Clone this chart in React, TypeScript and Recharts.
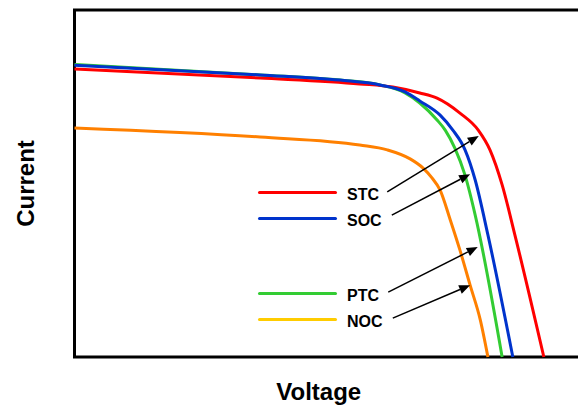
import React from 'react'
import { LineChart, Line, XAxis, YAxis, ReferenceArea, ReferenceLine, Legend } from 'recharts'

// I-V curves, voltage and current as % of full scale
const stcV = [0, 36.5, 56.1, 62.6, 67.9, 71.3, 75.8, 79.4, 81.7, 84.1, 86.6, 92.3]
const stcI = [83.0, 80.4, 78.7, 77.8, 76.1, 74.6, 70.3, 65.4, 59.7, 49.6, 35.2, 0]

const socV = [0, 36.5, 52.2, 60.1, 65.0, 67.9, 71.9, 74.4, 76.8, 78.8, 81.3, 86.2]
const socI = [84.1, 81.3, 79.8, 78.4, 76.4, 73.8, 69.7, 65.4, 59.7, 51.0, 35.2, 0]

const ptcV = [0, 36.5, 52.2, 60.1, 65.0, 67.9, 71.3, 72.9, 74.8, 76.8, 78.8, 84.1]
const ptcI = [84.3, 81.3, 79.8, 78.4, 76.1, 73.2, 68.3, 65.4, 60.2, 52.4, 40.9, 0]

const nocV = [0, 36.5, 56.1, 61.5, 66.0, 68.5, 70.3, 71.9, 73.9, 75.8, 77.8, 79.8, 81.3]
const nocI = [66.0, 63.4, 61.1, 59.7, 57.1, 54.5, 51.6, 48.1, 39.5, 30.8, 20.7, 10.7, 0]

const labels = ['STC', 'SOC', 'PTC', 'NOC']
const lineColors = ['#ff0000', '#0033cc', '#33cc33', '#ff8000']
const legendColors = ['#ff0000', '#0033cc', '#33cc33', '#ffcc00']

// arrow from legend label to curve: [fromV, fromI, toV, toI]
const arrows = [
  [61.5, 47.6, 79.5, 63.7],
  [62.4, 40.9, 77.8, 52.7],
  [61.7, 18.7, 79.3, 31.7],
  [62.6, 11.2, 77.8, 20.7],
]

const zip = (v: number[], i: number[]) => v.map((x, k) => ({ v: x, i: i[k] }))
const series = [zip(stcV, stcI), zip(socV, socI), zip(ptcV, ptcI), zip(nocV, nocI)]
const drawOrder = [3, 2, 0, 1]

const FONT = '"Liberation Sans", Arial, sans-serif'

function Arrow(props: any) {
  const { x1, y1, x2, y2 } = props
  const dx = x2 - x1
  const dy = y2 - y1
  const len = Math.sqrt(dx * dx + dy * dy)
  const ux = dx / len
  const uy = dy / len
  const hl = 11
  const hw = 4.5
  const bx = x2 - ux * hl
  const by = y2 - uy * hl
  const pts = `${x2},${y2} ${bx - uy * hw},${by + ux * hw} ${bx + uy * hw},${by - ux * hw}`
  return (
    <g>
      <line x1={x1} y1={y1} x2={bx} y2={by} stroke="#000" strokeWidth={1.5} />
      <polygon points={pts} fill="#000" />
    </g>
  )
}

const rowTops = [0, 26, 101, 127]

function renderLegend() {
  return (
    <div style={{ position: 'relative', width: 140, height: 150, fontFamily: FONT }}>
      {labels.map((name, k) => (
        <div
          key={name}
          style={{ position: 'absolute', left: 0, top: rowTops[k], height: 20, display: 'flex', alignItems: 'center' }}
        >
          <span style={{ display: 'inline-block', width: 79, height: 3, background: legendColors[k], borderRadius: 1.5 }} />
          <span style={{ marginLeft: 10, fontSize: 16, fontWeight: 'bold', color: '#000', position: 'relative', top: 2.5 }}>
            {name}
          </span>
        </div>
      ))}
    </div>
  )
}

export default function App() {
  return (
    <div style={{ width: 578, height: 398, fontFamily: FONT }}>
      <LineChart width={578} height={398} margin={{ top: 2, right: 3, bottom: 0, left: 0 }}>
        <XAxis
          type="number"
          dataKey="v"
          domain={[0, 100]}
          tick={false}
          tickLine={false}
          axisLine={false}
          height={49}
          label={{ value: 'Voltage', position: 'center', dx: -10, dy: 10, fontSize: 24, fontWeight: 'bold', fill: '#000' }}
        />
        <YAxis
          type="number"
          domain={[0, 100]}
          tick={false}
          tickLine={false}
          axisLine={false}
          width={66.5}
          label={{ value: 'Current', angle: -90, position: 'center', dx: -16, dy: 0, fontSize: 24, fontWeight: 'bold', fill: '#000' }}
        />
        {drawOrder.map(k => (
          <Line
            key={labels[k]}
            data={series[k]}
            dataKey="i"
            type="monotone"
            stroke={lineColors[k]}
            strokeWidth={3}
            dot={false}
            activeDot={false}
            isAnimationActive={false}
          />
        ))}
        {arrows.map((a, k) => (
          <ReferenceLine
            key={k}
            segment={[{ x: a[0], y: a[1] }, { x: a[2], y: a[3] }]}
            shape={Arrow}
          />
        ))}
        <ReferenceArea x1={0} x2={100} y1={0} y2={100} fill="none" fillOpacity={0} stroke="#000" strokeWidth={3} />
        <Legend
          layout="vertical"
          align="center"
          verticalAlign="middle"
          wrapperStyle={{ left: 250, top: 174 }}
          content={renderLegend}
        />
      </LineChart>
    </div>
  )
}
